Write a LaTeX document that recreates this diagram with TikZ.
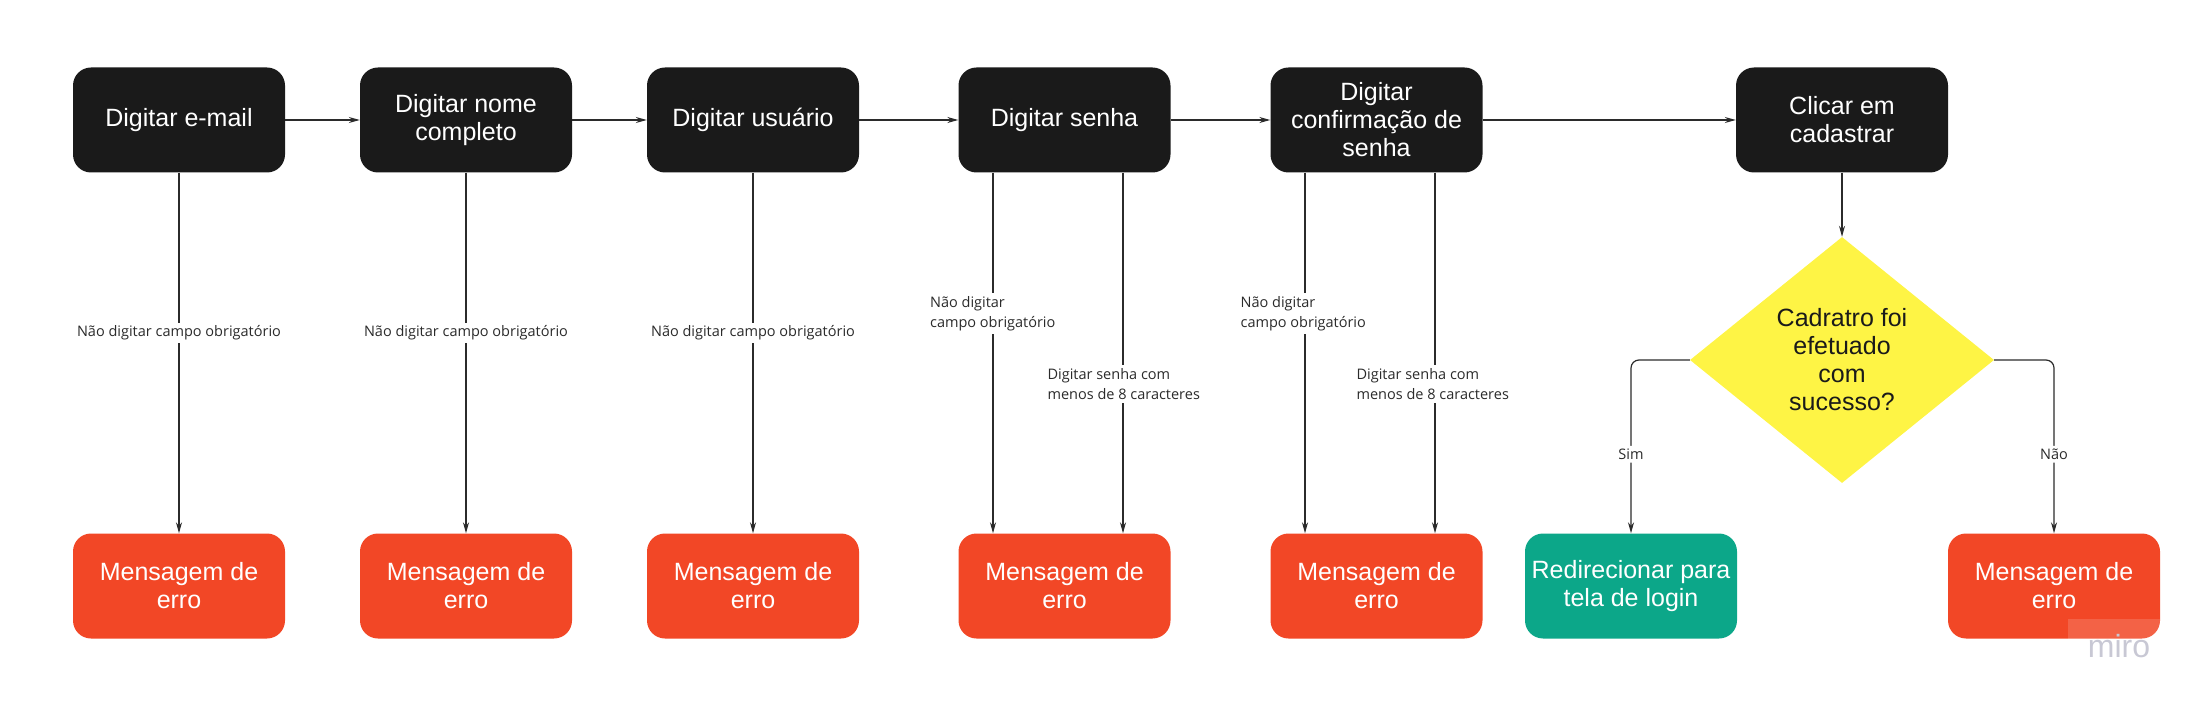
\documentclass[tikz,border=0pt]{standalone}
\usepackage{fontspec}
\setmainfont{Liberation Sans}
\newfontfamily\lblfont{Open Sans}
\usetikzlibrary{shapes.geometric,arrows.meta}
\definecolor{boxdark}{HTML}{1A1A1A}
\definecolor{errred}{HTML}{F24726}
\definecolor{okgreen}{HTML}{0CA789}
\definecolor{decyellow}{HTML}{FEF445}
\definecolor{linegray}{HTML}{2B2B2B}
\definecolor{mirogray}{HTML}{C8C8D4}
\begin{document}
\begin{tikzpicture}[x=1pt,y=-1pt,
  stepbox/.style={rectangle, rounded corners=18pt, minimum width=212pt, minimum height=105pt,
    align=center, inner sep=2pt, font=\fontsize{25}{28}\selectfont, text=white},
  dark/.style={stepbox, fill=boxdark},
  err/.style={stepbox, fill=errred},
  ok/.style={stepbox, fill=okgreen},
  conn/.style={draw=linegray, line width=1.2pt, -{Stealth[length=11pt,width=6pt]}},
  lbl/.style={fill=white, inner sep=3pt, align=left, font=\lblfont\fontsize{14.5}{20}\selectfont, text=linegray},
]
\useasboundingbox (0,0) rectangle (2205,708);

% top row
\node[dark] (t1) at (179,120) {Digitar e-mail};
\node[dark] (t2) at (466,120) {Digitar nome\\completo};
\node[dark] (t3) at (753,120) {Digitar usuário};
\node[dark] (t4) at (1064.5,120) {Digitar senha};
\node[dark] (t5) at (1376.5,120) {Digitar\\confirmação de\\senha};
\node[dark] (t6) at (1842,120) {Clicar em\\cadastrar};

% bottom row
\node[err] (e1) at (179,586) {Mensagem de\\erro};
\node[err] (e2) at (466,586) {Mensagem de\\erro};
\node[err] (e3) at (753,586) {Mensagem de\\erro};
\node[err] (e4) at (1064.5,586) {Mensagem de\\erro};
\node[err] (e5) at (1376.5,586) {Mensagem de\\erro};
\node[ok] (ok) at (1631,586) {Redirecionar para\\tela de login};
\node[err] (e6) at (2054,586) {Mensagem de\\erro};

% decision
\node[diamond, fill=decyellow, minimum width=304pt, minimum height=246pt, inner sep=0pt,
  align=center, font=\fontsize{25}{28}\selectfont, text=boxdark] (dm) at (1842,360)
  {Cadratro foi\\efetuado\\com\\sucesso?};

% horizontal flow
\draw[conn] (t1) -- (t2);
\draw[conn] (t2) -- (t3);
\draw[conn] (t3) -- (t4);
\draw[conn] (t4) -- (t5);
\draw[conn] (t5) -- (t6);
\draw[conn] (t6) -- (dm);

% error branches
\draw[conn] (t1) -- node[lbl, pos=0.444] {Não digitar campo obrigatório} (e1);
\draw[conn] (t2) -- node[lbl, pos=0.444] {Não digitar campo obrigatório} (e2);
\draw[conn] (t3) -- node[lbl, pos=0.444] {Não digitar campo obrigatório} (e3);

\draw[conn] ([xshift=-71.5pt]t4.south) -- node[lbl, pos=0.39, anchor=west, xshift=-66.5pt]
  {Não digitar\\campo obrigatório} ([xshift=-71.5pt]e4.north);
\draw[conn] ([xshift=58.5pt]t4.south) -- node[lbl, pos=0.586, anchor=west, xshift=-79pt]
  {Digitar senha com\\menos de 8 caracteres} ([xshift=58.5pt]e4.north);
\draw[conn] ([xshift=-71.5pt]t5.south) -- node[lbl, pos=0.39, anchor=west, xshift=-68pt]
  {Não digitar\\campo obrigatório} ([xshift=-71.5pt]e5.north);
\draw[conn] ([xshift=58.5pt]t5.south) -- node[lbl, pos=0.586, anchor=west, xshift=-82pt]
  {Digitar senha com\\menos de 8 caracteres} ([xshift=58.5pt]e5.north);

% decision branches
\draw[conn, rounded corners=8pt] (dm.west) -| node[lbl, pos=0.772] {Sim} (ok.north);
\draw[conn, rounded corners=8pt] (dm.east) -| node[lbl, pos=0.772] {Não} (e6.north);

% watermark
\fill[white, opacity=0.15] (2068,619) rectangle (2160,660);
\node[text=mirogray, font=\fontsize{32}{32}\selectfont, inner sep=0pt, anchor=base] (miro) at (2119,657) {miro};
\end{tikzpicture}
\end{document}
